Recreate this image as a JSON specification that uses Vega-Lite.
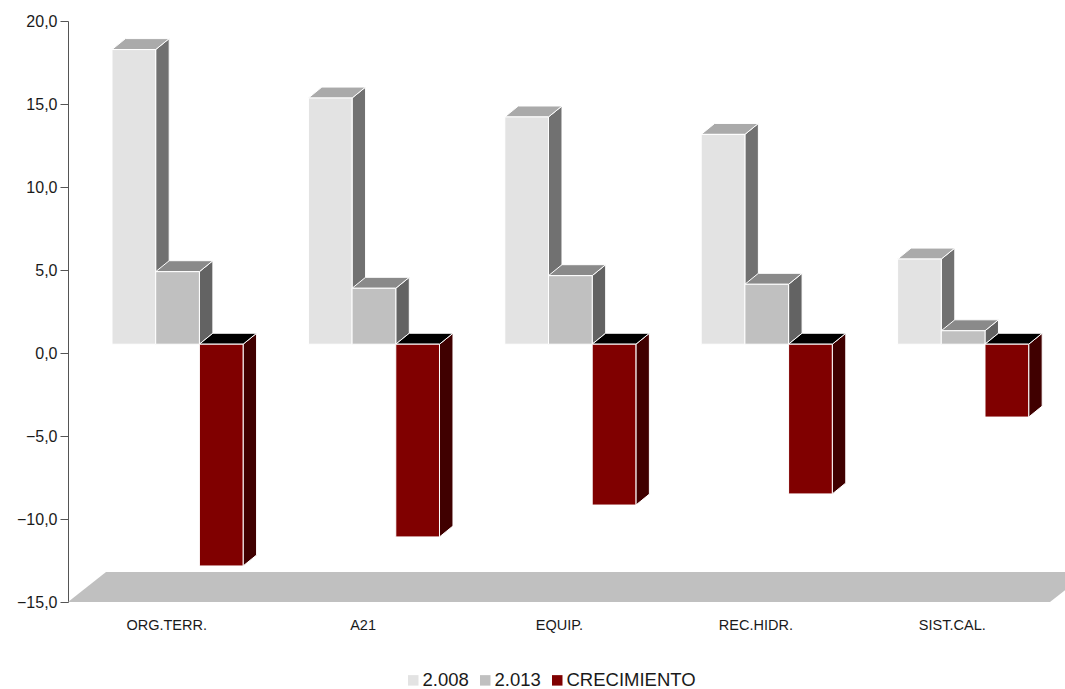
{
"$schema":"https://vega.github.io/schema/vega-lite/v6.json",
"width":982,"height":581,
"autosize":{"type":"none"},
"padding":{"left":68,"top":21,"right":15,"bottom":87},
"background":"white",
"config":{"view":{"stroke":null},"font":"Liberation Sans"},
"layer":[
{"data":{"values":[{"edge":"front"},{"edge":"back"}]},
 "transform":[
  {"calculate":"datum.edge==='back'?1:0","as":"t"},
  {"calculate":"datum.t*0.1935","as":"fx"},
  {"calculate":"5+datum.t*0.1935","as":"fx2"},
  {"calculate":"-15+datum.t*1.81","as":"fy"}],
 "mark":{"type":"area","orient":"horizontal","color":"#c0c0c0"},
 "encoding":{
  "x":{"field":"fx","type":"quantitative","scale":{"domain":[0,5],"nice":false,"zero":false},
   "axis":{"title":null,"grid":false,"domain":false,"ticks":false,"values":[0.5,1.5,2.5,3.5,4.5],"labelExpr":"['ORG.TERR.','A21','EQUIP.','REC.HIDR.','SIST.CAL.'][floor(datum.value)]","labelFontSize":14.5,"labelPadding":16,"labelColor":"#1a1a1a","labelFont":"Liberation Sans","labelFlush":false}},
  "x2":{"field":"fx2"},
  "y":{"field":"fy","type":"quantitative","scale":{"domain":[-15,20],"nice":false,"zero":false},
   "axis":{"title":null,"grid":false,"values":[-15,-10,-5,0,5,10,15,20],"labelExpr":"replace(format(datum.value,'.1f'),'.',',')","labelFontSize":16,"labelPadding":3,"labelColor":"#1a1a1a","labelFont":"Liberation Sans","tickSize":8,"tickColor":"#555555","domainColor":"#555555","tickWidth":1,"domainWidth":1}}
 }},
{"data":{"values":[
 {"cat":"ORG.TERR.","series":"2.008","value":17.75},
 {"cat":"ORG.TERR.","series":"2.013","value":4.37},
 {"cat":"ORG.TERR.","series":"CRECIMIENTO","value":-13.36},
 {"cat":"A21","series":"2.008","value":14.83},
 {"cat":"A21","series":"2.013","value":3.37},
 {"cat":"A21","series":"CRECIMIENTO","value":-11.61},
 {"cat":"EQUIP.","series":"2.008","value":13.69},
 {"cat":"EQUIP.","series":"2.013","value":4.13},
 {"cat":"EQUIP.","series":"CRECIMIENTO","value":-9.69},
 {"cat":"REC.HIDR.","series":"2.008","value":12.64},
 {"cat":"REC.HIDR.","series":"2.013","value":3.61},
 {"cat":"REC.HIDR.","series":"CRECIMIENTO","value":-9.02},
 {"cat":"SIST.CAL.","series":"2.008","value":5.13},
 {"cat":"SIST.CAL.","series":"2.013","value":0.81},
 {"cat":"SIST.CAL.","series":"CRECIMIENTO","value":-4.39}]},
 "transform":[
  {"calculate":"indexof(['ORG.TERR.','A21','EQUIP.','REC.HIDR.','SIST.CAL.'],datum.cat)+0.224+indexof(['2.008','2.013','CRECIMIENTO'],datum.series)*0.2225","as":"xL"},
  {"calculate":"datum.xL+0.2225","as":"xR"},
  {"calculate":"max(datum.value,0)+0.53","as":"top"},
  {"calculate":"min(datum.value,0)+0.53","as":"bottom"}],
 "resolve":{"scale":{"color":"independent"}},
 "layer":[
 {"transform":[
   {"calculate":"['near','far']","as":"side"},{"flatten":["side"]},
   {"calculate":"datum.side==='far'?1:0","as":"t"},
   {"calculate":"datum.xR+datum.t*0.0687","as":"sx"},
   {"calculate":"datum.top+datum.t*0.66","as":"sy"},
   {"calculate":"datum.bottom+datum.t*0.66","as":"sy2"}],
  "mark":{"type":"area","orient":"vertical","stroke":"white","strokeWidth":1},
  "encoding":{
   "x":{"field":"sx","type":"quantitative"},
   "y":{"field":"sy","type":"quantitative"},
   "y2":{"field":"sy2"},
   "detail":{"field":"cat"},
   "color":{"field":"series","type":"nominal","legend":null,"scale":{"domain":["2.008","2.013","CRECIMIENTO"],"range":["#717171","#636363","#400000"]}}}},
 {"transform":[
   {"calculate":"['near','far']","as":"side"},{"flatten":["side"]},
   {"calculate":"datum.side==='far'?1:0","as":"t"},
   {"calculate":"datum.xL+datum.t*0.0687","as":"tx"},
   {"calculate":"datum.xR+datum.t*0.0687","as":"tx2"},
   {"calculate":"datum.top+datum.t*0.66","as":"ty"}],
  "mark":{"type":"area","orient":"horizontal","stroke":"white","strokeWidth":1},
  "encoding":{
   "x":{"field":"tx","type":"quantitative"},
   "x2":{"field":"tx2"},
   "y":{"field":"ty","type":"quantitative"},
   "detail":{"field":"cat"},
   "color":{"field":"series","type":"nominal","legend":null,"scale":{"domain":["2.008","2.013","CRECIMIENTO"],"range":["#aaaaaa","#8a8a8a","#000000"]}}}},
 {"mark":{"type":"rect","stroke":"white","strokeWidth":1},
  "encoding":{
   "x":{"field":"xL","type":"quantitative"},
   "x2":{"field":"xR"},
   "y":{"field":"top","type":"quantitative"},
   "y2":{"field":"bottom"},
   "color":{"field":"series","type":"nominal","scale":{"domain":["2.008","2.013","CRECIMIENTO"],"range":["#e3e3e3","#c0c0c0","#800000"]},
    "legend":{"title":null,"orient":"none","legendX":336,"legendY":650,"direction":"horizontal","symbolType":"square","symbolSize":110,"symbolStrokeWidth":0,"labelFontSize":18.5,"labelColor":"#1a1a1a","labelFont":"Liberation Sans","columnPadding":7,"labelOffset":0,"padding":0}}}}
 ]}
]
}
